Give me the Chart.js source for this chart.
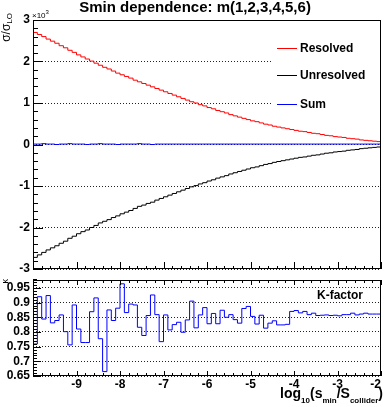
<!DOCTYPE html>
<html>
<head>
<meta charset="utf-8">
<title>Smin dependence</title>
<script src="https://cdn.jsdelivr.net/npm/chart.js@4.4.0/dist/chart.umd.min.js"></script>
<style>
  html, body { margin: 0; padding: 0; background: #fff; overflow: hidden; }
  #wrap { position: relative; width: 384px; height: 407px; }
  #wrap canvas { position: absolute; left: 0; top: 0; }
</style>
</head>
<body>
<div id="wrap">
  <canvas id="topChart" width="384" height="407"></canvas>
  <canvas id="bottomChart" width="384" height="407"></canvas>
</div>
<script>
'use strict'

// histogram binning: log10(smin/S), 80 bins of 0.1
const xMin = -10;
const xMax = -2;
const binWidth = 0.1;

// sigma/sigma_LO in units of 10^3
const resolved = [
  2.70, 2.65, 2.60, 2.54, 2.49, 2.44, 2.38, 2.33, 2.27, 2.22,
  2.16, 2.11, 2.06, 2.01, 1.96, 1.91, 1.86, 1.82, 1.77, 1.72,
  1.68, 1.64, 1.60, 1.55, 1.51, 1.47, 1.43, 1.39, 1.35, 1.31,
  1.27, 1.23, 1.19, 1.15, 1.11, 1.07, 1.03, 1.00, 0.96, 0.93,
  0.89, 0.86, 0.82, 0.79, 0.76, 0.72, 0.69, 0.66, 0.63, 0.60,
  0.57, 0.55, 0.52, 0.49, 0.47, 0.44, 0.42, 0.40, 0.38, 0.36,
  0.34, 0.32, 0.31, 0.29, 0.27, 0.26, 0.24, 0.22, 0.21, 0.19,
  0.18, 0.17, 0.15, 0.14, 0.13, 0.11, 0.10, 0.09, 0.08, 0.07
];
const unresolved = [
  -2.72, -2.66, -2.60, -2.54, -2.49, -2.44, -2.38, -2.33, -2.26, -2.21,
  -2.15, -2.10, -2.06, -2.00, -1.95, -1.89, -1.85, -1.81, -1.76, -1.72,
  -1.67, -1.63, -1.59, -1.54, -1.49, -1.46, -1.42, -1.39, -1.34, -1.30,
  -1.26, -1.22, -1.18, -1.14, -1.10, -1.06, -1.02, -0.99, -0.95, -0.92,
  -0.88, -0.85, -0.81, -0.78, -0.75, -0.71, -0.68, -0.65, -0.62, -0.59,
  -0.56, -0.54, -0.51, -0.48, -0.46, -0.43, -0.41, -0.39, -0.37, -0.35,
  -0.33, -0.31, -0.30, -0.28, -0.26, -0.25, -0.23, -0.21, -0.20, -0.18,
  -0.17, -0.16, -0.14, -0.13, -0.12, -0.10, -0.09, -0.08, -0.07, -0.06
];
const sumValues = [
  0.01, 0.01, 0.02, 0.01, 0.01, 0.00, 0.01, 0.01, 0.02, 0.01,
  0.01, 0.01, 0.00, 0.01, 0.01, 0.02, 0.01, 0.01, 0.01, 0.00,
  0.01, 0.01, 0.01, 0.01, 0.02, 0.01, 0.01, 0.00, 0.01, 0.01,
  0.01, 0.01, 0.01, 0.01, 0.01, 0.01, 0.01, 0.01, 0.01, 0.01,
  0.01, 0.01, 0.01, 0.01, 0.01, 0.01, 0.01, 0.01, 0.01, 0.01,
  0.01, 0.01, 0.01, 0.01, 0.01, 0.01, 0.01, 0.01, 0.01, 0.01,
  0.01, 0.01, 0.01, 0.01, 0.01, 0.01, 0.01, 0.01, 0.01, 0.01,
  0.01, 0.01, 0.01, 0.01, 0.01, 0.01, 0.01, 0.01, 0.01, 0.01
];

// K-factor per bin
const kFactor = [
  0.759, 0.920, 0.844, 0.924, 0.831, 0.839, 0.858, 0.801, 0.756, 0.892,
  0.810, 0.764, 0.764, 0.869, 0.916, 0.777, 0.665, 0.875, 0.839, 0.881,
  0.964, 0.866, 0.895, 0.892, 0.816, 0.788, 0.856, 0.926, 0.859, 0.767,
  0.858, 0.807, 0.825, 0.833, 0.799, 0.841, 0.905, 0.814, 0.858, 0.883,
  0.828, 0.863, 0.828, 0.874, 0.850, 0.859, 0.842, 0.830, 0.880, 0.887,
  0.853, 0.827, 0.857, 0.813, 0.830, 0.838, 0.824, 0.824, 0.826, 0.870,
  0.873, 0.865, 0.870, 0.859, 0.864, 0.856, 0.857, 0.858, 0.856, 0.857,
  0.855, 0.859, 0.859, 0.864, 0.858, 0.861, 0.864, 0.861, 0.861, 0.861
];

const upperTicks = [-3, -2, -1, 0, 1, 2, 3];
const upperTickLabels = ['-3', '-2', '-1', '0', '1', '2', '3'];
const kTicks = [0.65, 0.7, 0.75, 0.8, 0.85, 0.9, 0.95];
const kTickLabels = ['0.65', '0.7', '0.75', '0.8', '0.85', '0.9', '0.95'];
const xTicks = [-10, -9, -8, -7, -6, -5, -4, -3, -2];
const xTickLabels = ['', '-9', '-8', '-7', '-6', '-5', '-4', '-3', '-2'];

const fontFamily = '"Liberation Sans", Arial, Helvetica, sans-serif';

// points on the left bin edges, plus the closing right edge
function histPoints(values) {
  let pts = [];
  for (let i = 0; i < values.length; i++) {
    pts.push({ x: xMin + i * binWidth, y: values[i] });
  }
  pts.push({ x: xMax, y: values[values.length - 1] });
  return pts;
}

function histDataset(label, values, color) {
  return {
    label: label,
    data: histPoints(values),
    borderColor: color,
    borderWidth: 1,
    pointRadius: 0,
    fill: false,
    stepped: 'before',
    tension: 0
  };
}

// ROOT style frame with inward tick marks
function drawFrame(chart, t) {
  const ctx = chart.ctx;
  const a = chart.chartArea;
  const xs = chart.scales.x;
  const ys = chart.scales.y;
  ctx.save();
  ctx.strokeStyle = '#000';
  ctx.lineWidth = 1;
  ctx.beginPath();
  let n = Math.round((xMax - xMin) / 0.2);
  for (let i = 0; i <= n; i++) {
    let v = xMin + i * 0.2;
    let major = Math.abs(v - Math.round(v)) < 1e-6;
    let px = Math.round(xs.getPixelForValue(v)) + 0.5;
    let len = major ? t.xMajor : t.xMinor;
    ctx.moveTo(px, a.bottom);
    ctx.lineTo(px, a.bottom - len);
    if (t.topTicks) {
      ctx.moveTo(px, a.top);
      ctx.lineTo(px, a.top + len);
    }
  }
  let m = Math.round((ys.max - ys.min) / t.yMinorStep);
  for (let j = 0; j <= m; j++) {
    let v = ys.min + j * t.yMinorStep;
    let r = v / t.yMajorStep;
    let major = Math.abs(r - Math.round(r)) < 1e-6;
    let py = Math.round(ys.getPixelForValue(v)) + 0.5;
    let len = major ? t.yMajor : t.yMinor;
    ctx.moveTo(a.left, py);
    ctx.lineTo(a.left + len, py);
  }
  ctx.stroke();
  ctx.strokeRect(Math.round(a.left) + 0.5, Math.round(a.top) + 0.5,
    Math.round(a.right - a.left) - 1, Math.round(a.bottom - a.top) - 1);
  ctx.restore();
}

const upperPlugin = {
  id: 'upperDecor',
  beforeDatasetsDraw(chart) {
    // legend box hides the grid lines behind it
    const ctx = chart.ctx;
    ctx.save();
    ctx.fillStyle = '#fff';
    ctx.fillRect(273, 34, 107, 84);
    ctx.restore();
  },
  afterDraw(chart) {
    const ctx = chart.ctx;
    drawFrame(chart, { xMajor: 7, xMinor: 3, yMajor: 10, yMinor: 5, yMinorStep: 0.2, yMajorStep: 1, topTicks: false });
    ctx.save();
    ctx.fillStyle = '#000';
    ctx.textBaseline = 'alphabetic';

    // title
    ctx.font = 'bold 15px ' + fontFamily;
    ctx.textAlign = 'center';
    ctx.fillText('Smin dependence: m(1,2,3,4,5,6)', 195, 12);

    // x10^3 exponent
    ctx.textAlign = 'left';
    ctx.font = '8px ' + fontFamily;
    ctx.fillText('\u00d710', 32, 18);
    let w = ctx.measureText('\u00d710').width;
    ctx.font = '6px ' + fontFamily;
    ctx.fillText('3', 32 + w, 14);

    // y title sigma/sigma_LO, rotated, ending at the top
    ctx.save();
    ctx.translate(0, 13);
    ctx.rotate(-Math.PI / 2);
    ctx.textAlign = 'right';
    ctx.font = '8px ' + fontFamily;
    ctx.fillText('LO', 0, 12);
    let wl = ctx.measureText('LO').width;
    ctx.font = '12px ' + fontFamily;
    ctx.fillText('\u03c3/\u03c3', -wl, 10);
    ctx.restore();

    // legend
    const entries = [
      ['Resolved', 'rgb(255,0,0)', 48],
      ['Unresolved', '#000', 75],
      ['Sum', 'rgb(0,0,255)', 104]
    ];
    ctx.font = 'bold 12px ' + fontFamily;
    ctx.textBaseline = 'middle';
    ctx.lineWidth = 1;
    for (let i = 0; i < entries.length; i++) {
      ctx.strokeStyle = entries[i][1];
      ctx.beginPath();
      ctx.moveTo(277, entries[i][2] + 0.5);
      ctx.lineTo(297, entries[i][2] + 0.5);
      ctx.stroke();
      ctx.fillText(entries[i][0], 300, entries[i][2] + 1);
    }
    ctx.restore();
  }
};

const lowerPlugin = {
  id: 'lowerDecor',
  afterDraw(chart) {
    const ctx = chart.ctx;
    drawFrame(chart, { xMajor: 5, xMinor: 3, yMajor: 8, yMinor: 4, yMinorStep: 0.01, yMajorStep: 0.05, topTicks: true });
    ctx.save();
    ctx.fillStyle = '#000';

    ctx.font = 'bold 12px ' + fontFamily;
    ctx.textAlign = 'left';
    ctx.textBaseline = 'middle';
    ctx.fillText('K-factor', 317, 296);

    // kappa axis title
    ctx.save();
    ctx.translate(0, 279);
    ctx.rotate(-Math.PI / 2);
    ctx.textAlign = 'right';
    ctx.textBaseline = 'alphabetic';
    ctx.font = '9px ' + fontFamily;
    ctx.fillText('\u03ba', 0, 8);
    ctx.restore();

    // x title log10(s_min/S_collider), right aligned
    const parts = [
      ['log', 14, 0], ['10', 8, 5], ['(s', 14, 0], ['min', 8, 5],
      ['/S', 14, 0], ['collider', 8, 5], [')', 14, 0]
    ];
    ctx.textBaseline = 'alphabetic';
    let total = 0;
    for (let i = 0; i < parts.length; i++) {
      ctx.font = 'bold ' + parts[i][1] + 'px ' + fontFamily;
      total += ctx.measureText(parts[i][0]).width;
    }
    let x = 383 - total;
    for (let i = 0; i < parts.length; i++) {
      ctx.font = 'bold ' + parts[i][1] + 'px ' + fontFamily;
      ctx.fillText(parts[i][0], x, 398 + parts[i][2]);
      x += ctx.measureText(parts[i][0]).width;
    }
    ctx.restore();
  }
};

const gridStyle = { color: '#222', lineWidth: 1, drawTicks: false };
const tickFont = { family: fontFamily, size: 12, weight: 'bold' };

new Chart(document.getElementById('topChart'), {
  type: 'line',
  data: {
    datasets: [
      histDataset('Resolved', resolved, 'rgb(255,0,0)'),
      histDataset('Unresolved', unresolved, '#000'),
      histDataset('Sum', sumValues, 'rgb(0,0,255)')
    ]
  },
  options: {
    responsive: false,
    animation: false,
    devicePixelRatio: 1,
    layout: { padding: { top: 20, right: 3, bottom: 138, left: 0 } },
    plugins: { legend: { display: false }, tooltip: { enabled: false }, title: { display: false } },
    scales: {
      x: { type: 'linear', min: xMin, max: xMax, display: false },
      y: {
        type: 'linear',
        min: -3,
        max: 3,
        afterBuildTicks: (axis) => { axis.ticks = upperTicks.map(v => ({ value: v })); },
        afterFit: (axis) => { axis.width = 33; },
        ticks: {
          color: '#000',
          font: tickFont,
          padding: 3,
          autoSkip: false,
          callback: (value, index) => upperTickLabels[index]
        },
        grid: gridStyle,
        border: { display: false, dash: [1, 2] }
      }
    }
  },
  plugins: [upperPlugin]
});

new Chart(document.getElementById('bottomChart'), {
  type: 'line',
  data: {
    datasets: [histDataset('K-factor', kFactor, 'rgb(0,0,255)')]
  },
  options: {
    responsive: false,
    animation: false,
    devicePixelRatio: 1,
    layout: { padding: { top: 280, right: 3, bottom: 0, left: 0 } },
    plugins: { legend: { display: false }, tooltip: { enabled: false }, title: { display: false } },
    scales: {
      x: {
        type: 'linear',
        min: xMin,
        max: xMax,
        afterBuildTicks: (axis) => { axis.ticks = xTicks.map(v => ({ value: v })); },
        afterFit: (axis) => { axis.height = 31; },
        ticks: {
          color: '#000',
          font: tickFont,
          padding: 1,
          align: 'inner',
          maxRotation: 0,
          autoSkip: false,
          callback: (value, index) => xTickLabels[index]
        },
        grid: { display: false, drawTicks: false },
        border: { display: false }
      },
      y: {
        type: 'linear',
        min: 0.65,
        max: 0.977,
        afterBuildTicks: (axis) => { axis.ticks = kTicks.map(v => ({ value: v })); },
        afterFit: (axis) => { axis.width = 33; },
        ticks: {
          color: '#000',
          font: tickFont,
          padding: 3,
          autoSkip: false,
          callback: (value, index) => kTickLabels[index]
        },
        grid: gridStyle,
        border: { display: false, dash: [1, 2] }
      }
    }
  },
  plugins: [lowerPlugin]
});
</script>
</body>
</html>
